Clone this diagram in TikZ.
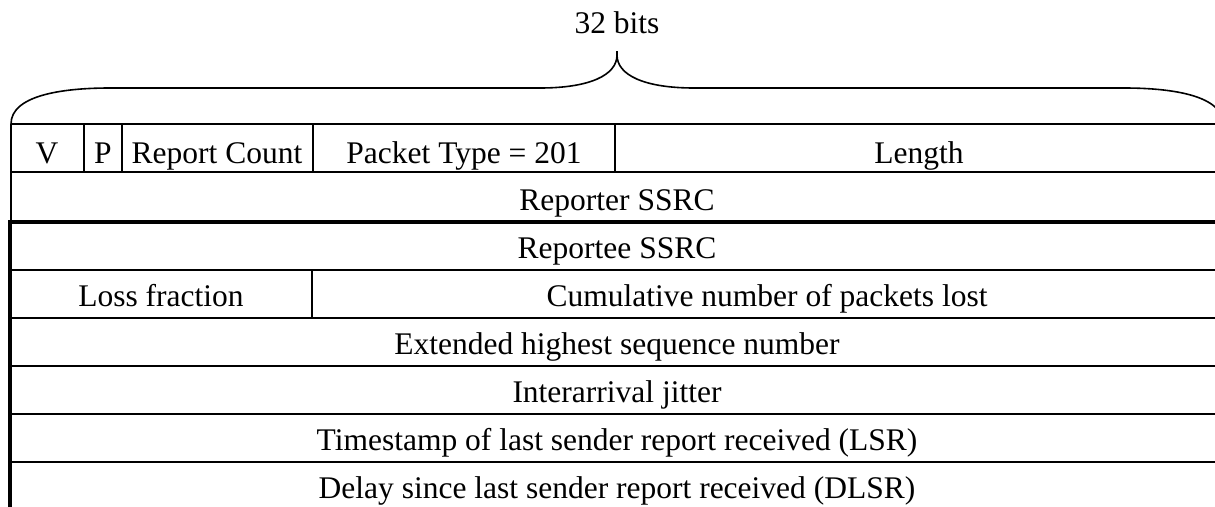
\documentclass[tikz,border=0pt]{standalone}
\usepackage{fontspec}
\setmainfont{Liberation Serif}
\begin{document}
\begin{tikzpicture}[x=1pt,y=-1pt,
  thin rule/.style={line width=1.4pt},
  thick rule/.style={line width=4.5pt},
  field/.style={anchor=base,inner sep=0pt,font=\fontsize{31.5}{36}\selectfont}]
\useasboundingbox (0,0) rectangle (1215,506);
\clip (0,0) rectangle (1215,506);

% brace spanning the 32-bit word
\draw[line width=1.6pt]
  (11,124) .. controls (11,96) and (60,88) .. (110,88) -- (540,88)
  .. controls (590,88) and (617,75) .. (617,55) -- (617,51)
  (617,55) .. controls (617,75) and (644,88) .. (694,88) -- (1124,88)
  .. controls (1174,88) and (1223,96) .. (1223,124);
\node[field] (bits) at (617,33) {32 bits};

% horizontal rules of the packet layout
\foreach \y in {124,172,270,318,366,414,462}
  \draw[thin rule] (11,\y) -- (1230,\y);
\draw[thick rule] (8,222) -- (1230,222);

% left border: thin for the header, thick for the report block
\draw[thin rule] (11,124) -- (11,222);
\draw[thick rule] (10,220) -- (10,510);

% field dividers
\draw[thin rule] (84,124) -- (84,172);
\draw[thin rule] (122,124) -- (122,172);
\draw[thin rule] (313,124) -- (313,172);
\draw[thin rule] (615,124) -- (615,172);
\draw[thin rule] (312,270) -- (312,318);

% field labels
\node[field] (v) at (47,163) {V};
\node[field] (p) at (103,163) {P};
\node[field] (rc) at (217,163) {Report Count};
\node[field] (pt) at (464,163) {Packet Type = 201};
\node[field] (len) at (919,163) {Length};
\node[field] (rssrc) at (617,210) {Reporter SSRC};
\node[field] (essrc) at (617,258) {Reportee SSRC};
\node[field] (loss) at (161,306) {Loss fraction};
\node[field] (cum) at (767,306) {Cumulative number of packets lost};
\node[field] (ehsn) at (617,354) {Extended highest sequence number};
\node[field] (jit) at (617,402) {Interarrival jitter};
\node[field] (lsr) at (617,450) {Timestamp of last sender report received (LSR)};
\node[field] (dlsr) at (617,498) {Delay since last sender report received (DLSR)};
\end{tikzpicture}
\end{document}
